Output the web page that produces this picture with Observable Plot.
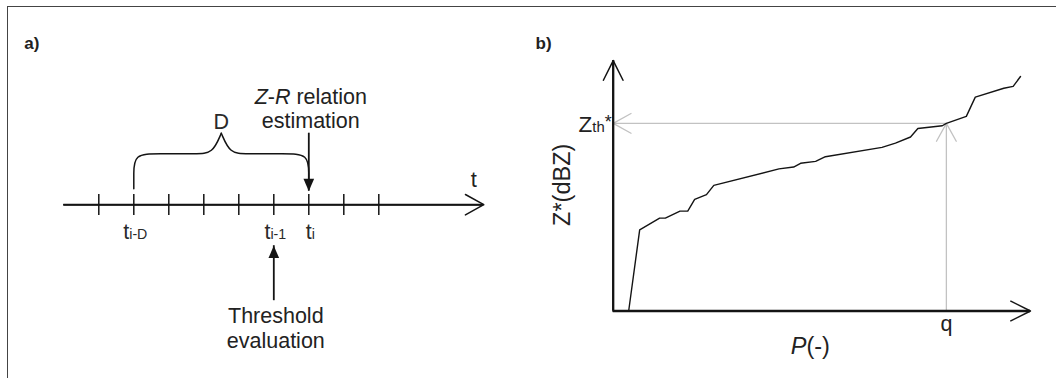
<!DOCTYPE html>
<html>
<head>
<meta charset="utf-8">
<script src="https://cdn.jsdelivr.net/npm/d3@7"></script>
<script src="https://cdn.jsdelivr.net/npm/@observablehq/plot@0.6"></script>
<style>
  body { margin: 0; background: #fff; }
  #figure { position: relative; width: 1056px; height: 378px; overflow: hidden; background: #fff; }
  #frame { position: absolute; left: 7px; top: 6px; right: -4px; bottom: -4px;
           border-top: 1.4px solid #444; border-left: 1.5px solid #444; }
  .panel { position: absolute; top: 0; width: 528px; height: 378px; }
  #panel-a { left: 0; }
  #panel-b { left: 528px; }
</style>
</head>
<body>
<div id="figure">
  <div id="frame"></div>
  <div id="panel-a" class="panel"></div>
  <div id="panel-b" class="panel"></div>
</div>
<script>
// ---------- Panel a: time line of the Z-R estimation window ----------
// Time steps along t (tick marks); the axis runs from axisStart to axisEnd.
const timeSteps = [0, 1, 2, 3, 4, 5, 6, 7, 8];
const axisStart = -1;
const axisEnd = 11;
// Labelled steps (markup: _{..} subscript, ^{..} superscript, /../ italic)
const tickSteps = [1, 5, 6];
const tickTexts = ["t_{i-D}", "t_{i-1}", "t_{i}"];
// Curly brace spanning the window D (control points: step, level)
const braceSide = ["left", "left", "left", "left", "left", "left", "left",
                   "right", "right", "right", "right", "right", "right", "right"];
const braceStep = [1, 1, 1, 1.7, 2.8, 3.25, 3.5,
                   6, 6, 6, 5.3, 4.2, 3.75, 3.5];
const braceLevel = [1.6, 3.0, 5.1, 5.1, 5.1, 5.1, 7.15,
                    1.6, 3.0, 5.1, 5.1, 5.1, 5.1, 7.15];
const braceTipStep = 3.5;
const braceTipLevel = 7.15;
// Event arrows: Z-R estimation at t_i, threshold evaluation at t_{i-1}
const eventStep = [6, 5];
const eventFrom = [7.15, -9.6];
const eventTo = [1.35, -4.1];
// Annotation lines
const noteStep = [6, 6, 5, 5];
const noteLevel = [10.1, 7.65, -11.85, -14.3];
const noteText = ["/Z/-/R/ relation", "estimation", "Threshold", "evaluation"];

// ---------- Panel b: sorted reflectivity vs. probability ----------
const pValues = [0.038, 0.065, 0.114, 0.128, 0.164, 0.183, 0.200, 0.229, 0.247,
                 0.407, 0.443, 0.460, 0.497, 0.521, 0.660, 0.693, 0.730, 0.748,
                 0.808, 0.818, 0.867, 0.889, 0.959, 0.982, 1.000];
const zValues = [0, 17.3, 19.8, 19.8, 21.3, 21.3, 23.8, 24.8, 26.8,
                 30.3, 30.7, 31.5, 31.9, 32.9, 34.9, 35.8, 37.1, 38.9,
                 39.5, 40.0, 41.5, 45.6, 47.5, 47.9, 50.0];
const q = 0.818;          // quantile
const zThreshold = 40;    // Z_th*
const pAxisEnd = 1.0245;
const zAxisEnd = 53.4;

const ink = "#141414";
const textInk = "#222";
const guide = "#c2c2c2";
const font = '"Liberation Sans", Arial, Helvetica, sans-serif';

// Turn the small markup in text nodes into tspans (sub/superscript, italic).
function applyRichText(svg) {
  const ns = "http://www.w3.org/2000/svg";
  svg.querySelectorAll("text").forEach((node) => {
    const src = node.textContent;
    if (!/[_^\/]/.test(src)) return;
    node.textContent = "";
    const re = /_\{([^}]*)\}|\^\{([^}]*)\}|\/([^\/]*)\/|([^_^\/]+)/g;
    for (const m of src.matchAll(re)) {
      const span = document.createElementNS(ns, "tspan");
      if (m[1] !== undefined) {
        span.textContent = m[1];
        span.setAttribute("font-size", "0.66em");
      } else if (m[2] !== undefined) {
        span.textContent = m[2];
        span.setAttribute("font-size", "0.8em");
        span.setAttribute("dy", "-0.22em");
      } else if (m[3] !== undefined) {
        span.textContent = m[3];
        span.setAttribute("font-style", "italic");
      } else {
        span.textContent = m[4];
      }
      node.appendChild(span);
    }
  });
  return svg;
}

const ticks = tickSteps.map((s, i) => ({step: s, text: tickTexts[i]}));
const brace = braceStep.map((s, i) => ({step: s, level: braceLevel[i], side: braceSide[i]}));
const events = eventStep.map((s, i) => ({step: s, from: eventFrom[i], to: eventTo[i]}));
const notes = noteStep.map((s, i) => ({step: s, level: noteLevel[i], text: noteText[i]}));

// Filled arrowheads with the tip at the anchor point
const headDown = {draw(ctx, size) {
  const r = Math.sqrt(size / Math.PI);
  ctx.moveTo(0, 0); ctx.lineTo(-0.86 * r, -2 * r); ctx.lineTo(0.86 * r, -2 * r); ctx.closePath();
}};
const headUp = {draw(ctx, size) {
  const r = Math.sqrt(size / Math.PI);
  ctx.moveTo(0, 0); ctx.lineTo(-0.86 * r, 2 * r); ctx.lineTo(0.86 * r, 2 * r); ctx.closePath();
}};

const plotA = Plot.plot({
  width: 528,
  height: 378,
  marginLeft: 63.3,
  marginRight: 44.7,
  marginTop: 104.2,
  marginBottom: 73.8,
  x: {domain: [axisStart, axisEnd], axis: null},
  y: {domain: [-10, 10], axis: null},
  style: {fontFamily: font, background: "transparent", overflow: "visible", color: textInk},
  marks: [
    // time axis
    Plot.ruleY([0], {x1: axisStart, x2: axisEnd, stroke: ink, strokeWidth: 2}),
    Plot.arrow([{x1: axisStart, x2: axisEnd}], {x1: "x1", x2: "x2", y1: 0, y2: 0,
      stroke: ink, strokeWidth: 1.5, headAngle: 58, headLength: 21}),
    Plot.ruleX(timeSteps, {x: (d) => d, y1: -1.08, y2: 1.02, stroke: ink, strokeWidth: 1.5}),
    Plot.text(["t"], {x: axisEnd, y: 0, dx: -10, dy: -17.5, lineAnchor: "bottom",
      fontSize: 22, fill: textInk}),
    Plot.text(ticks, {x: "step", y: 0, text: "text", dx: 1.5, dy: 34, lineAnchor: "bottom",
      fontSize: 21.5, fill: "#2a2a2a"}),
    // window D
    Plot.line(brace, {x: "step", y: "level", z: "side", curve: "basis",
      stroke: ink, strokeWidth: 1.5}),
    Plot.text(["D"], {x: braceTipStep, y: braceTipLevel, dy: -4.5, lineAnchor: "bottom",
      fontSize: 21.5, fill: "#2a2a2a"}),
    // event arrows
    Plot.ruleX(events, {x: "step", y1: "from", y2: "to", stroke: ink, strokeWidth: 1.8}),
    Plot.dot(events.filter((d) => d.to < d.from), {x: "step", y: "to", r: 6.2,
      symbol: headDown, fill: ink, stroke: "none"}),
    Plot.dot(events.filter((d) => d.to > d.from), {x: "step", y: "to", r: 6.2,
      symbol: headUp, fill: ink, stroke: "none"}),
    Plot.text(notes, {x: "step", y: "level", text: "text", dx: 2, lineAnchor: "bottom",
      fontSize: 21.5, fill: textInk}),
    // panel tag
    Plot.text(["a)"], {frameAnchor: "top-left", dx: -39.6, dy: -55.7, textAnchor: "start",
      lineAnchor: "bottom", fontSize: 17, fontWeight: "bold", fill: textInk})
  ]
});

const curve = pValues.map((p, i) => ({p, z: zValues[i]}));
const axesB = [{x1: 0, y1: 0, x2: 0, y2: zAxisEnd}, {x1: 0, y1: 0, x2: pAxisEnd, y2: 0}];
const readout = [{x1: q, y1: 0, x2: q, y2: zThreshold}, {x1: q, y1: zThreshold, x2: 0, y2: zThreshold}];

const plotB = Plot.plot({
  width: 528,
  height: 378,
  marginLeft: 84.7,
  marginRight: 36,
  marginTop: 76,
  marginBottom: 67.5,
  x: {domain: [0, 1], axis: null},
  y: {domain: [0, 50], axis: null},
  style: {fontFamily: font, background: "transparent", overflow: "visible", color: textInk},
  marks: [
    // quantile read-out
    Plot.arrow(readout, {x1: "x1", y1: "y1", x2: "x2", y2: "y2", stroke: guide,
      strokeWidth: 1.3, headAngle: 58, headLength: 23.5}),
    // sorted Z* curve
    Plot.line(curve, {x: "p", y: "z", stroke: ink, strokeWidth: 1.4}),
    // axes
    Plot.ruleX([0], {y1: 0, y2: zAxisEnd, stroke: ink, strokeWidth: 2.3}),
    Plot.ruleY([0], {x1: 0, x2: pAxisEnd, stroke: ink, strokeWidth: 2.3}),
    Plot.arrow(axesB, {x1: "x1", y1: "y1", x2: "x2", y2: "y2", stroke: ink,
      strokeWidth: 1.5, headAngle: 53, headLength: 22}),
    // labels
    Plot.text(["Z_{th}^{*}"], {x: 0, y: zThreshold, dx: -1.5, dy: 8.5, textAnchor: "end",
      lineAnchor: "bottom", fontSize: 22.5, fill: textInk}),
    Plot.text(["Z*(dBZ)"], {frameAnchor: "left", dx: -51, dy: -9, rotate: -90,
      textAnchor: "middle", lineAnchor: "middle", fontSize: 23.5, fill: textInk}),
    Plot.text(["/P/(-)"], {frameAnchor: "bottom", dx: -6.5, dy: 43, textAnchor: "middle",
      lineAnchor: "bottom", fontSize: 23.5, fill: textInk}),
    Plot.text(["q"], {x: q, y: 0, dy: 19.5, lineAnchor: "bottom", fontSize: 21.5, fill: textInk}),
    // panel tag
    Plot.text(["b)"], {frameAnchor: "top-left", dx: -77.7, dy: -27.5, textAnchor: "start",
      lineAnchor: "bottom", fontSize: 17, fontWeight: "bold", fill: textInk})
  ]
});

document.getElementById("panel-a").appendChild(applyRichText(plotA));
document.getElementById("panel-b").appendChild(applyRichText(plotB));
</script>
</body>
</html>
